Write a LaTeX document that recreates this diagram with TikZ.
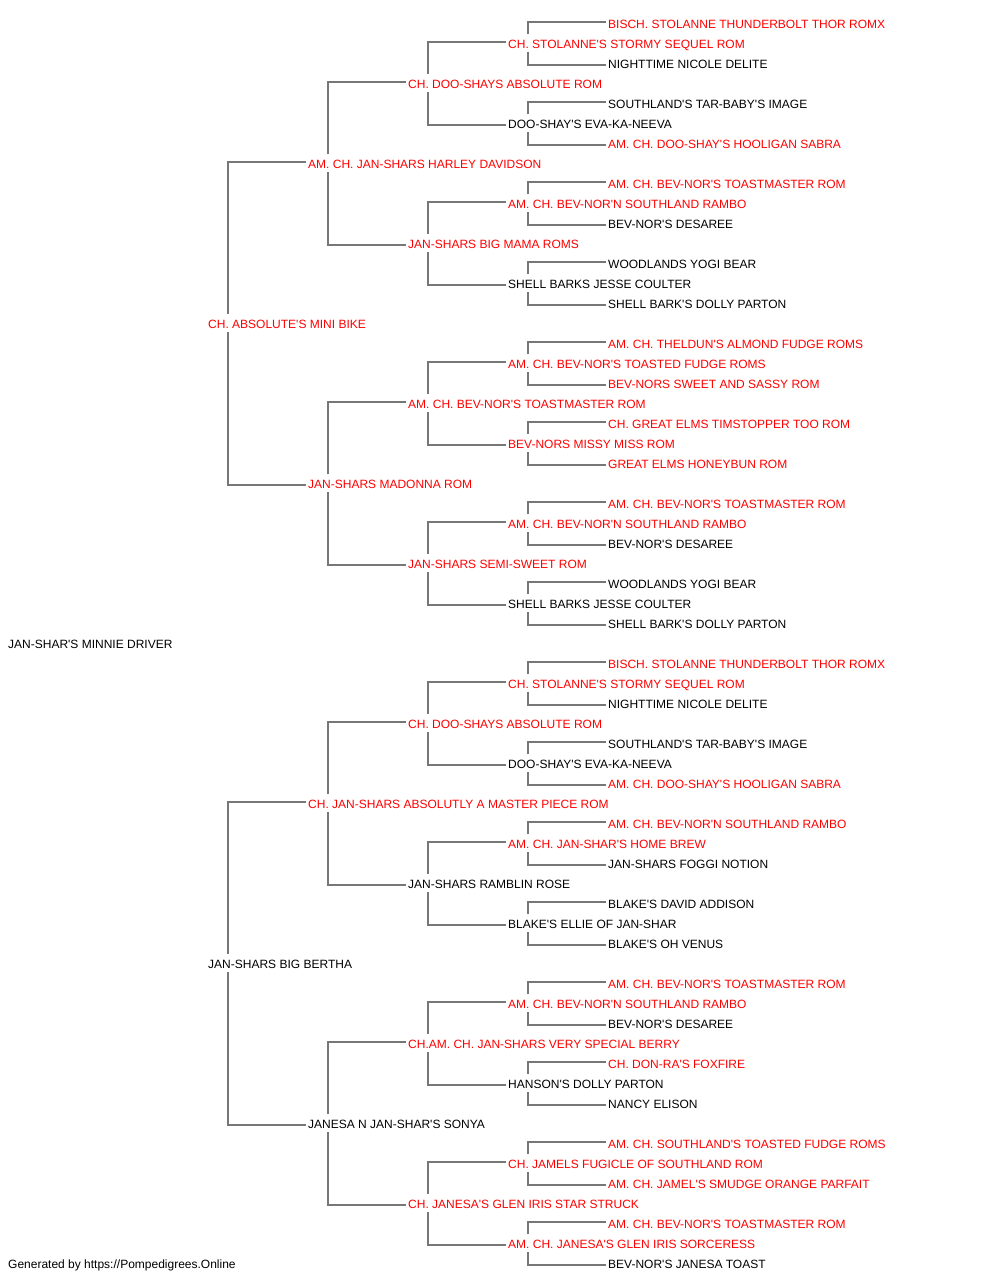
\documentclass[tikz,border=0pt]{standalone}
\usepackage{fontspec}
\setmainfont{Liberation Sans}[Ligatures=TeXOff]
\usepackage{tikz}
\definecolor{pedred}{HTML}{FF0000}
\definecolor{pedgray}{HTML}{777777}
\tikzset{
	dog/.style={anchor=west, inner sep=0pt, text height=14pt, text depth=4pt, font=\fontsize{12}{14}\selectfont, text=black},
	champ/.style={dog, text=pedred},
	branch/.style={draw=pedgray, line width=1.3pt}
}
\def\parents(#1)(#2)(#3){\draw[branch] ([xshift=-2pt,yshift=1pt]#2.west) -| ([xshift=20pt]#1.north west); \draw[branch] ([xshift=-2pt,yshift=-2pt]#3.west) -| ([xshift=20pt]#1.south west);}

\begin{document}
\begin{tikzpicture}[x=1pt, y=-1pt]
			%%%%% START %%%%%
			
			\useasboundingbox[fill=white] (0, 0) rectangle (1000, 1280);
			
			\node[champ] (p32) at (608, 23) {BISCH. STOLANNE THUNDERBOLT THOR ROMX};
			\node[champ] (p16) at (508, 43) {CH. STOLANNE'S STORMY SEQUEL ROM};
			\node[dog] (p33) at (608, 63) {NIGHTTIME NICOLE DELITE};
			\node[champ] (p8) at (408, 83) {CH. DOO-SHAYS ABSOLUTE ROM};
			\node[dog] (p34) at (608, 103) {SOUTHLAND'S TAR-BABY'S IMAGE};
			\node[dog] (p17) at (508, 123) {DOO-SHAY'S EVA-KA-NEEVA};
			\node[champ] (p35) at (608, 143) {AM. CH. DOO-SHAY'S HOOLIGAN SABRA};
			\node[champ] (p4) at (308, 163) {AM. CH. JAN-SHARS HARLEY DAVIDSON};
			\node[champ] (p36) at (608, 183) {AM. CH. BEV-NOR'S TOASTMASTER ROM};
			\node[champ] (p18) at (508, 203) {AM. CH. BEV-NOR'N SOUTHLAND RAMBO};
			\node[dog] (p37) at (608, 223) {BEV-NOR'S DESAREE};
			\node[champ] (p9) at (408, 243) {JAN-SHARS BIG MAMA ROMS};
			\node[dog] (p38) at (608, 263) {WOODLANDS YOGI BEAR};
			\node[dog] (p19) at (508, 283) {SHELL BARKS JESSE COULTER};
			\node[dog] (p39) at (608, 303) {SHELL BARK'S DOLLY PARTON};
			\node[champ] (p2) at (208, 323) {CH. ABSOLUTE'S MINI BIKE};
			\node[champ] (p40) at (608, 343) {AM. CH. THELDUN'S ALMOND FUDGE ROMS};
			\node[champ] (p20) at (508, 363) {AM. CH. BEV-NOR'S TOASTED FUDGE ROMS};
			\node[champ] (p41) at (608, 383) {BEV-NORS SWEET AND SASSY ROM};
			\node[champ] (p10) at (408, 403) {AM. CH. BEV-NOR'S TOASTMASTER ROM};
			\node[champ] (p42) at (608, 423) {CH. GREAT ELMS TIMSTOPPER TOO ROM};
			\node[champ] (p21) at (508, 443) {BEV-NORS MISSY MISS ROM};
			\node[champ] (p43) at (608, 463) {GREAT ELMS HONEYBUN ROM};
			\node[champ] (p5) at (308, 483) {JAN-SHARS MADONNA ROM};
			\node[champ] (p44) at (608, 503) {AM. CH. BEV-NOR'S TOASTMASTER ROM};
			\node[champ] (p22) at (508, 523) {AM. CH. BEV-NOR'N SOUTHLAND RAMBO};
			\node[dog] (p45) at (608, 543) {BEV-NOR'S DESAREE};
			\node[champ] (p11) at (408, 563) {JAN-SHARS SEMI-SWEET ROM};
			\node[dog] (p46) at (608, 583) {WOODLANDS YOGI BEAR};
			\node[dog] (p23) at (508, 603) {SHELL BARKS JESSE COULTER};
			\node[dog] (p47) at (608, 623) {SHELL BARK'S DOLLY PARTON};
			
			\node[dog] (p1) at (8, 643) {JAN-SHAR'S MINNIE DRIVER};
			
			\node[champ] (p48) at (608, 663) {BISCH. STOLANNE THUNDERBOLT THOR ROMX};
			\node[champ] (p24) at (508, 683) {CH. STOLANNE'S STORMY SEQUEL ROM};
			\node[dog] (p49) at (608, 703) {NIGHTTIME NICOLE DELITE};
			\node[champ] (p12) at (408, 723) {CH. DOO-SHAYS ABSOLUTE ROM};
			\node[dog] (p50) at (608, 743) {SOUTHLAND'S TAR-BABY'S IMAGE};
			\node[dog] (p25) at (508, 763) {DOO-SHAY'S EVA-KA-NEEVA};
			\node[champ] (p51) at (608, 783) {AM. CH. DOO-SHAY'S HOOLIGAN SABRA};
			\node[champ] (p6) at (308, 803) {CH. JAN-SHARS ABSOLUTLY A MASTER PIECE ROM};
			\node[champ] (p52) at (608, 823) {AM. CH. BEV-NOR'N SOUTHLAND RAMBO};
			\node[champ] (p26) at (508, 843) {AM. CH. JAN-SHAR'S HOME BREW};
			\node[dog] (p53) at (608, 863) {JAN-SHARS FOGGI NOTION};
			\node[dog] (p13) at (408, 883) {JAN-SHARS RAMBLIN ROSE};
			\node[dog] (p54) at (608, 903) {BLAKE'S DAVID ADDISON};
			\node[dog] (p27) at (508, 923) {BLAKE'S ELLIE OF JAN-SHAR};
			\node[dog] (p55) at (608, 943) {BLAKE'S OH VENUS};
			\node[dog] (p3) at (208, 963) {JAN-SHARS BIG BERTHA};
			\node[champ] (p56) at (608, 983) {AM. CH. BEV-NOR'S TOASTMASTER ROM};
			\node[champ] (p28) at (508, 1003) {AM. CH. BEV-NOR'N SOUTHLAND RAMBO};
			\node[dog] (p57) at (608, 1023) {BEV-NOR'S DESAREE};
			\node[champ] (p14) at (408, 1043) {CH.AM. CH. JAN-SHARS VERY SPECIAL BERRY};
			\node[champ] (p58) at (608, 1063) {CH. DON-RA'S FOXFIRE};
			\node[dog] (p29) at (508, 1083) {HANSON'S DOLLY PARTON};
			\node[dog] (p59) at (608, 1103) {NANCY ELISON};
			\node[dog] (p7) at (308, 1123) {JANESA N JAN-SHAR'S SONYA};
			\node[champ] (p60) at (608, 1143) {AM. CH. SOUTHLAND'S TOASTED FUDGE ROMS};
			\node[champ] (p30) at (508, 1163) {CH. JAMELS FUGICLE OF SOUTHLAND ROM};
			\node[champ] (p61) at (608, 1183) {AM. CH. JAMEL'S SMUDGE ORANGE PARFAIT};
			\node[champ] (p15) at (408, 1203) {CH. JANESA'S GLEN IRIS STAR STRUCK};
			\node[champ] (p62) at (608, 1223) {AM. CH. BEV-NOR'S TOASTMASTER ROM};
			\node[champ] (p31) at (508, 1243) {AM. CH. JANESA'S GLEN IRIS SORCERESS};
			\node[dog] (p63) at (608, 1263) {BEV-NOR'S JANESA TOAST};
			
			\node[dog] (footer) at (8, 1263) {Generated by https://Pompedigrees.Online};
			
			\parents(p2)(p4)(p5)
			\parents(p3)(p6)(p7)
			\parents(p4)(p8)(p9)
			\parents(p5)(p10)(p11)
			\parents(p6)(p12)(p13)
			\parents(p7)(p14)(p15)
			\parents(p8)(p16)(p17)
			\parents(p9)(p18)(p19)
			\parents(p10)(p20)(p21)
			\parents(p11)(p22)(p23)
			\parents(p12)(p24)(p25)
			\parents(p13)(p26)(p27)
			\parents(p14)(p28)(p29)
			\parents(p15)(p30)(p31)
			\parents(p16)(p32)(p33)
			\parents(p17)(p34)(p35)
			\parents(p18)(p36)(p37)
			\parents(p19)(p38)(p39)
			\parents(p20)(p40)(p41)
			\parents(p21)(p42)(p43)
			\parents(p22)(p44)(p45)
			\parents(p23)(p46)(p47)
			\parents(p24)(p48)(p49)
			\parents(p25)(p50)(p51)
			\parents(p26)(p52)(p53)
			\parents(p27)(p54)(p55)
			\parents(p28)(p56)(p57)
			\parents(p29)(p58)(p59)
			\parents(p30)(p60)(p61)
			\parents(p31)(p62)(p63)
			
			%%%%% END %%%%%
		\end{tikzpicture}
\end{document}
